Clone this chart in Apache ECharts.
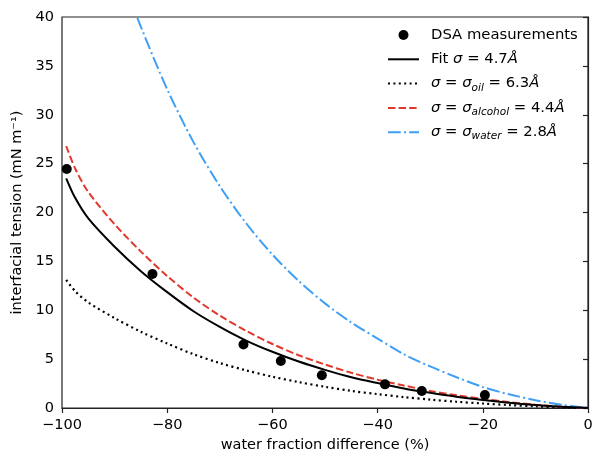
<!DOCTYPE html>
<html>
<head>
<meta charset="utf-8">
<script src="https://cdn.jsdelivr.net/npm/echarts@6/dist/echarts.min.js"></script>
<style>
html,body{margin:0;padding:0;background:#fff;}
#chart{width:592px;height:452px;}
</style>
</head>
<body>
<div id="chart"></div>
<script>
// Measured points
const dsaX = [-99.1, -82.8, -65.5, -58.4, -50.6, -38.6, -31.6, -19.6];
const dsaY = [24.45, 13.7, 6.5, 4.8, 3.35, 2.42, 1.74, 1.33];

// Curve sample positions
const curveX = [-99.2, -97.5, -95, -90, -85, -80, -75, -70, -65, -60, -55, -50, -45, -40, -35, -30, -25, -20, -15, -10, -5, 0];
const fitY     = [23.5, 21.5, 19.4, 16.5, 14.0, 11.85, 9.9, 8.3, 6.9, 5.75, 4.75, 3.9, 3.15, 2.55, 2.0, 1.55, 1.15, 0.82, 0.53, 0.3, 0.12, 0];
const oilY     = [13.1, 11.95, 10.8, 9.2, 7.8, 6.6, 5.5, 4.6, 3.85, 3.2, 2.65, 2.17, 1.75, 1.42, 1.11, 0.86, 0.64, 0.46, 0.3, 0.17, 0.07, 0];
const alcoholY = [26.8, 24.5, 22.1, 18.8, 16.0, 13.5, 11.3, 9.45, 7.9, 6.55, 5.4, 4.45, 3.6, 2.9, 2.3, 1.75, 1.3, 0.93, 0.6, 0.34, 0.14, 0];
const waterX   = [-90, -85, -80, -75, -70, -65, -60, -55, -50, -45, -40, -35, -30, -25, -20, -15, -10, -5, 0];
const waterY   = [46, 39.0, 32.6, 27.2, 22.7, 18.9, 15.7, 13.0, 10.7, 8.75, 7.1, 5.5, 4.25, 3.15, 2.15, 1.4, 0.8, 0.33, 0];

const xTicks = [-100, -80, -60, -40, -20, 0];
const yTicks = [0, 5, 10, 15, 20, 25, 30, 35, 40];

const names = ['DSA measurements', 'Fit', 'oil', 'alcohol', 'water'];
const legendText = {
  'DSA measurements': 'DSA measurements',
  'Fit': 'Fit {i|σ} = 4.7{i|Å}',
  'oil': '{i|σ} = {i|σ}{s|oil} = 6.3{i|Å}',
  'alcohol': '{i|σ} = {i|σ}{s|alcohol} = 4.4{i|Å}',
  'water': '{i|σ} = {i|σ}{s|water} = 2.8{i|Å}'
};

const zip = (xs, ys) => xs.map((x, i) => [x, ys[i]]);
const FONT = 'DejaVu Sans';
const minus = v => (v < 0 ? '\u2212' + (-v) : String(v));

const chart = echarts.init(document.getElementById('chart'), null, {renderer: 'canvas'});
chart.setOption({
  animation: false,
  backgroundColor: '#fff',
  textStyle: {fontFamily: FONT},
  grid: {left: 62, right: 4, top: 17, bottom: 44, containLabel: false, outerBoundsMode: 'none',
         show: true, borderColor: '#222', borderWidth: 1.2, backgroundColor: 'transparent'},
  legend: {
    orient: 'vertical',
    left: 387,
    top: 25,
    padding: 0,
    itemWidth: 31,
    itemHeight: 10,
    itemGap: 4.3,
    data: names.map(n => n === 'DSA measurements'
      ? {name: n, icon: 'circle'}
      : {name: n, itemStyle: {opacity: 0}}),
    formatter: n => legendText[n],
    textStyle: {
      fontFamily: FONT, fontSize: 14.8, color: '#000', lineHeight: 20, padding: [0, 0, 0, 7],
      rich: {
        i: {fontFamily: FONT, fontSize: 14.8, fontStyle: 'italic', color: '#000', lineHeight: 20},
        s: {fontFamily: FONT, fontSize: 10.5, fontStyle: 'italic', color: '#000', verticalAlign: 'bottom', lineHeight: 13}
      }
    }
  },
  xAxis: {
    type: 'value', min: -100, max: 0, interval: 20,
    name: 'water fraction difference (%)', nameLocation: 'middle', nameGap: 29,
    nameTextStyle: {fontFamily: FONT, fontSize: 14.5, color: '#000'},
    axisLine: {show: true, onZero: false, lineStyle: {color: '#222', width: 1.2}},
    axisTick: {show: true, length: 5, lineStyle: {color: '#222', width: 1.2}},
    axisLabel: {fontFamily: FONT, fontSize: 14.5, color: '#000', margin: 10, formatter: minus, showMinLabel: true, showMaxLabel: true},
    splitLine: {show: false}
  },
  yAxis: {
    type: 'value', min: 0, max: 40, interval: 5,
    name: 'interfacial tension (mN m\u207B\u00B9)', nameLocation: 'middle', nameGap: 29,
    nameTextStyle: {fontFamily: FONT, fontSize: 14.5, color: '#000'},
    axisLine: {show: true, lineStyle: {color: '#222', width: 1.2}},
    axisTick: {show: true, length: 5, lineStyle: {color: '#222', width: 1.2}},
    axisLabel: {fontFamily: FONT, fontSize: 14.5, color: '#000', margin: 8},
    splitLine: {show: false}
  },
  series: [
    {
      name: 'DSA measurements', type: 'scatter', data: zip(dsaX, dsaY),
      symbol: 'circle', symbolSize: 10, itemStyle: {color: '#000', opacity: 1}, z: 10
    },
    {
      name: 'Fit', type: 'line', data: zip(curveX, fitY), showSymbol: false, symbol: 'none',
      smooth: 0.3, lineStyle: {color: '#000', width: 2}, itemStyle: {color: '#000'}, z: 4
    },
    {
      name: 'oil', type: 'line', data: zip(curveX, oilY), showSymbol: false, symbol: 'none',
      smooth: 0.3, lineStyle: {color: '#000', width: 2.2, type: [2, 3.4]}, itemStyle: {color: '#000'}, z: 3
    },
    {
      name: 'alcohol', type: 'line', data: zip(curveX, alcoholY), showSymbol: false, symbol: 'none',
      smooth: 0.3, lineStyle: {color: '#e0392b', width: 2, type: [7.4, 3.2]}, itemStyle: {color: '#e0392b'}, z: 3
    },
    {
      name: 'water', type: 'line', data: zip(waterX, waterY), showSymbol: false, symbol: 'none', clip: true,
      smooth: 0.3, lineStyle: {color: '#3f9ff5', width: 2, type: [12.8, 3.2, 2, 3.2]}, itemStyle: {color: '#3f9ff5'}, z: 3
    }
  ]
});
</script>
</body>
</html>
